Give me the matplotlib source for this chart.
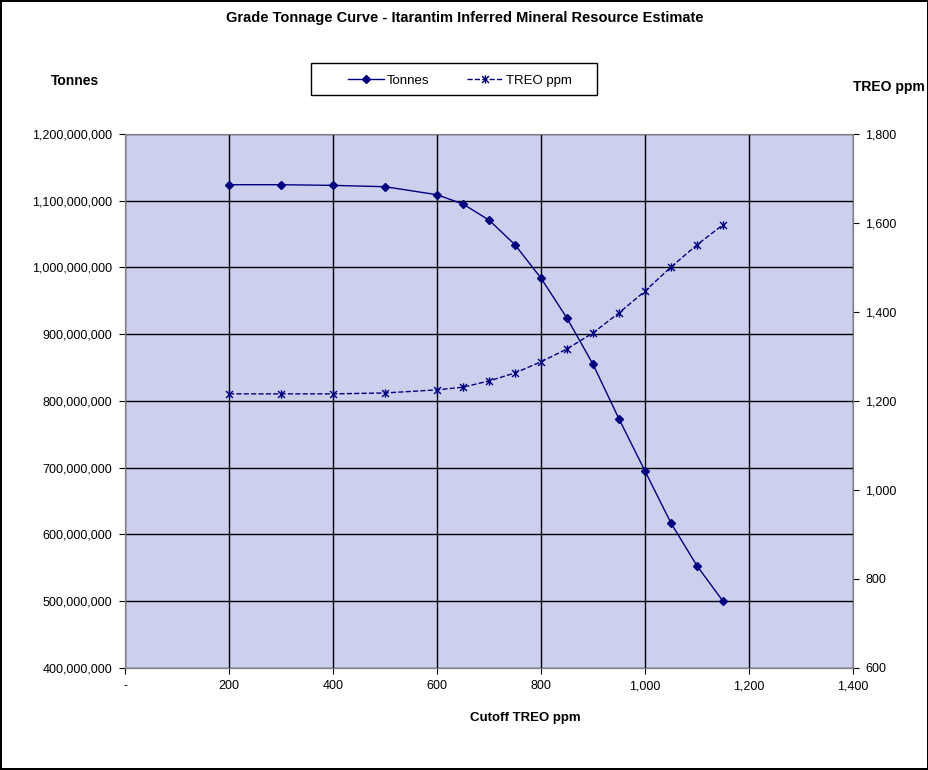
import numpy as np
import matplotlib.pyplot as plt
from matplotlib.path import Path
from matplotlib.patches import Rectangle
from matplotlib.ticker import FuncFormatter, MultipleLocator

plt.rcParams['font.family'] = ['Liberation Sans', 'DejaVu Sans']

cutoff = [200, 300, 400, 500, 600, 650, 700, 750, 800, 850, 900, 950, 1000, 1050, 1100, 1150]
tonnes = [1124e6, 1124e6, 1123e6, 1121e6, 1109e6, 1095e6, 1071e6, 1034e6, 984e6, 924e6,
          855e6, 773e6, 695e6, 617e6, 553e6, 500e6]
treo = [1216, 1216, 1216, 1218, 1225, 1231, 1245, 1263, 1288, 1317,
        1353, 1398, 1447, 1501, 1551, 1596]

navy = '#000080'

# excel style star: an x with a vertical bar through it
star = Path([(-1, -1), (1, 1), (-1, 1), (1, -1), (0, -1.2), (0, 1.2)],
            [Path.MOVETO, Path.LINETO, Path.MOVETO, Path.LINETO, Path.MOVETO, Path.LINETO])

fig = plt.figure(figsize=(9.29, 7.7), dpi=100)
fig.patch.set_edgecolor('black')
fig.patch.set_linewidth(1.5)

ax = fig.add_axes([0.1346, 0.1325, 0.7836, 0.6935])
ax.set_facecolor('#CCD0EC')
ax2 = ax.twinx()

l1, = ax.plot(cutoff, tonnes, color=navy, lw=1, marker='D', ms=4.5, label='Tonnes')
l2, = ax2.plot(cutoff, treo, color=navy, lw=1, ls='--', marker=star, ms=6, mew=1,
               label='TREO ppm')

ax.set_xlim(0, 1400)
ax.set_ylim(400e6, 1200e6)
ax2.set_ylim(600, 1800)
ax.xaxis.set_major_locator(MultipleLocator(200))
ax.yaxis.set_major_locator(MultipleLocator(100e6))
ax2.yaxis.set_major_locator(MultipleLocator(200))

ax.xaxis.set_major_formatter(FuncFormatter(lambda v, p: '-' if v == 0 else f'{v:,.0f}'))
ax.yaxis.set_major_formatter(FuncFormatter(lambda v, p: f'{v:,.0f}'))
ax2.yaxis.set_major_formatter(FuncFormatter(lambda v, p: f'{v:,.0f}'))

ax.grid(True, color='black', lw=1)
ax.set_axisbelow(True)
for a in (ax, ax2):
    a.tick_params(labelsize=9, direction='out', length=4, pad=5)
    for s in a.spines.values():
        s.set_color('#808080')

fig.text(0.565, 0.0675, 'Cutoff TREO ppm', fontsize=9.5, fontweight='bold', ha='center', va='center')
fig.text(0.081, 0.895, 'Tonnes', fontsize=10, fontweight='bold', ha='center', va='center')
fig.text(0.957, 0.887, 'TREO ppm', fontsize=10, fontweight='bold', ha='center', va='center')
fig.text(0.500, 0.976, 'Grade Tonnage Curve - Itarantim Inferred Mineral Resource Estimate',
         fontsize=10.5, fontweight='bold', ha='center', va='center')

# legend box drawn separately, wider than its content like excel does
fig.patches.append(Rectangle((0.3348, 0.8766), 0.3079, 0.0416, transform=fig.transFigure,
                             facecolor='white', edgecolor='black', lw=1, zorder=5))
leg = fig.legend(handles=[l1, l2], loc='center', bbox_to_anchor=(0.4952, 0.8950), ncol=2,
                 fontsize=9.5, frameon=False, handlelength=2.7, handletextpad=0.2,
                 columnspacing=2.9, borderaxespad=0)
leg.set_zorder(6)

fig.savefig('out.png', dpi=100)
